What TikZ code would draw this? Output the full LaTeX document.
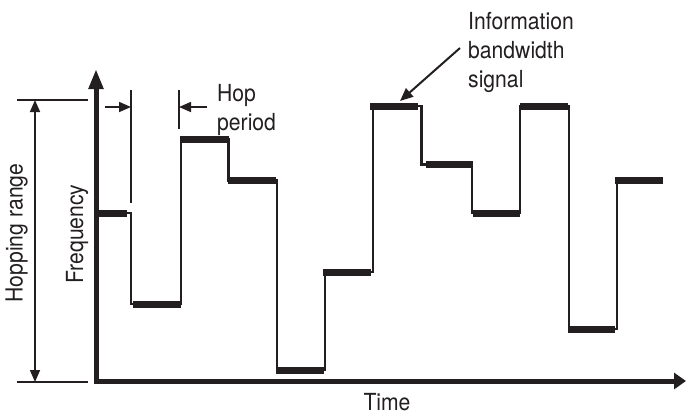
\documentclass[tikz,border=0pt]{standalone}
\usepackage{fontspec}
\setmainfont{TeX Gyre Heros}[FakeStretch=0.9]
\usetikzlibrary{arrows.meta}
\definecolor{ink}{HTML}{231F20}

\begin{document}
\begin{tikzpicture}[x=1pt,y=-1pt,
  lbl/.style={font=\fontsize{23.5}{29}\selectfont,text=ink,inner sep=0pt},
  dim/.style={ink,line width=1.6pt},
  dimtip/.style={-{Triangle[length=12pt,width=10pt]}},
  hop/.style={ink,line width=7pt},
  jump/.style={ink,line width=2.5pt,line join=miter}]
  \useasboundingbox (0,0) rectangle (687,416);
  % axes
  \coordinate (origin) at (96,381);
  \coordinate (ftip) at (96,69);
  \coordinate (ttip) at (686,381);
  \draw[ink,line width=5pt,line join=miter,{Triangle[length=20pt,width=14pt]}-{Triangle[length=12pt,width=16pt]}] (ftip) -- (origin) -- (ttip);
  \node[lbl,rotate=90] (freq) at (77,234) {Frequency};
  \node[lbl] (time) at (387,402) {Time};
  % hopping range
  \coordinate (rtop) at (35,100);
  \coordinate (rbot) at (35,382);
  \draw[dim] (17,100) -- (88,100);
  \draw[dim] (17,382) -- (88,382);
  \draw[dim,{Triangle[length=12pt,width=10pt]}-{Triangle[length=12pt,width=10pt]}] (rtop) -- (rbot);
  \node[lbl,rotate=90] (range) at (16.5,233) {Hopping range};
  % hop period
  \coordinate (hopL) at (131,107);
  \coordinate (hopR) at (179,107);
  \draw[dim] (131,90) -- (131,203);
  \draw[dim] (179,90) -- (179,129);
  \draw[dim,dimtip] (105,107) -- (hopL);
  \draw[dim,dimtip] (207,107) -- (hopR);
  \node[lbl,align=left,anchor=west] (period) at (217,110) {Hop\\period};
  % hopping signal
  \draw[jump] (96,213) -| (131,304) -| (181,139.5) -| (228.5,180.5) -| (277,370)
    -| (325,272) -| (373,106) -| (421.5,164.5) -| (472,213) -| (520,106)
    -| (569,329) -| (617,180.5) -- (663,180.5);
  \draw[hop] (97,213) -- (127,213);
  \draw[hop] (133,304) -- (181,304);
  \draw[hop] (180,139.5) -- (229,139.5);
  \draw[hop] (228,180.5) -- (276,180.5);
  \draw[hop] (276,370) -- (324,370);
  \draw[hop] (323,272) -- (371,272);
  \draw[hop] (370,106) -- (418,106);
  \draw[hop] (426,164.5) -- (473,164.5);
  \draw[hop] (473,213) -- (520,213);
  \draw[hop] (520,106) -- (568,106);
  \draw[hop] (568,329) -- (615,329);
  \draw[hop] (615,180.5) -- (663,180.5);
  % information bandwidth
  \coordinate (peak) at (400,101);
  \node[lbl,align=left,anchor=west] (info) at (468,52) {Information\\bandwidth\\signal};
  \draw[ink,line width=2pt,-{Triangle[length=13pt,width=11pt]}] ([xshift=-8pt,yshift=4pt]info.west) -- (peak);
\end{tikzpicture}
\end{document}
